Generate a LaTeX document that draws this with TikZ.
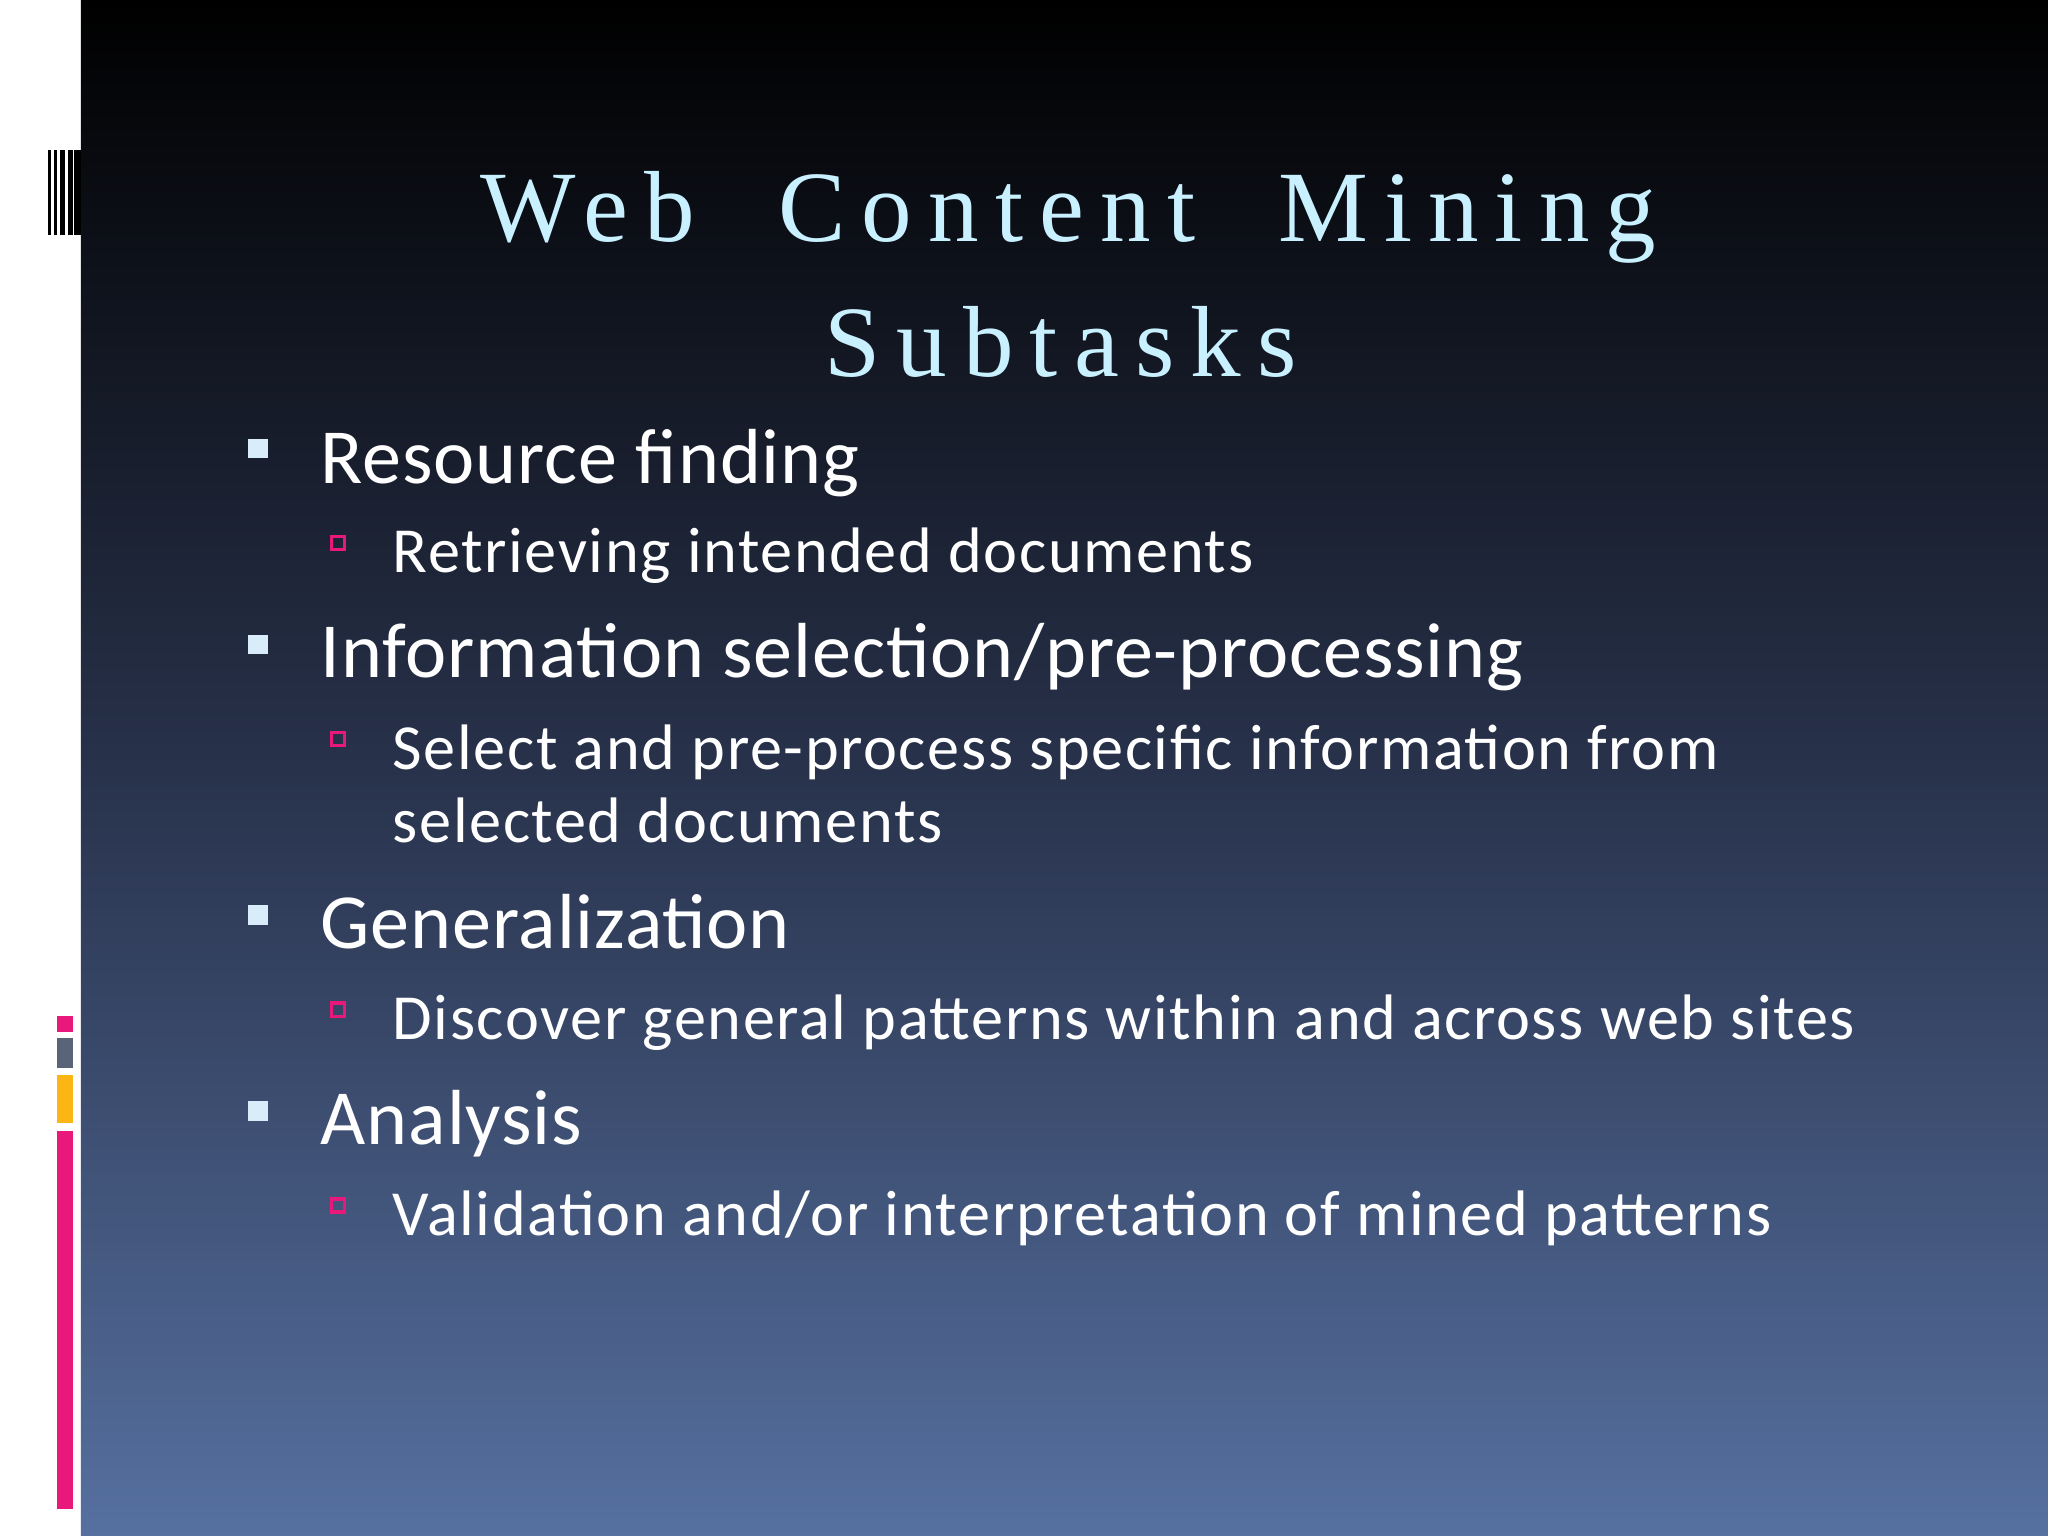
\documentclass[tikz,border=0pt]{standalone}
\usepackage{fontspec}
\setmainfont{Carlito}
\newfontfamily\titlefont[LetterSpace=16]{Liberation Serif}
\newfontfamily\onefont[LetterSpace=1.1]{Carlito}
\newfontfamily\twofont[LetterSpace=2.5]{Carlito}
\begin{document}
\begin{tikzpicture}[x=0.01cm,y=-0.01cm,
 lone/.style={anchor=base west,text=white,font=\onefont\fontsize{17pt}{19pt}\selectfont,inner sep=0},
 ltwo/.style={anchor=base west,text=white,font=\twofont\fontsize{14pt}{16pt}\selectfont,inner sep=0},
 ttl/.style={anchor=base,text=titlec,font=\titlefont\fontsize{22pt}{26pt}\selectfont,inner sep=0}]
\definecolor{titlec}{HTML}{C8F0FF}
\definecolor{bulc}{HTML}{D8ECFA}
\definecolor{pinkc}{HTML}{E8197A}
\definecolor{grayc}{HTML}{5A6478}
\definecolor{yelc}{HTML}{FBB514}
\useasboundingbox (0,0) rectangle (1568,1176);
\fill[white] (0,0) rectangle (1568,1176);
\shade[top color=black,bottom color={rgb,255:red,86;green,112;blue,160},middle color={rgb,255:red,40;green,50;blue,75}] (62,0) rectangle (1568,1176);
% barcode
\foreach \a/\b in {37/39,41/44,46/50,52/56,57/62}{\fill[black] (\a,115) rectangle (\b,180);}
% colour bars
\fill[pinkc] (44,778) rectangle (56,790);
\fill[grayc] (44,795) rectangle (56,818);
\fill[yelc] (44,823) rectangle (56,860);
\fill[pinkc] (44,866) rectangle (56,1155);
% title
\node[ttl] (t1) at (818,185) {Web\ \ Content\ \ Mining};
\node[ttl] (t2) at (812,288) {Subtasks};
% bullets
\foreach \y in {336,486,693,843}{\fill[bulc] (190,\y) rectangle (205,\y+15);}
\foreach \y in {411,561,768,918}{\draw[pinkc,line width=0.7pt] (254,\y) rectangle (264,\y+10);}
\node[lone] (a) at (245,370) {Resource finding};
\node[ltwo] (a1) at (300,438) {Retrieving intended documents};
\node[lone] (b) at (245,519) {Information selection/pre-processing};
\node[ltwo] (b1) at (300,589) {Select and pre-process specific information from};
\node[ltwo] (b2) at (300,645) {selected documents};
\node[lone] (c) at (245,726) {Generalization};
\node[ltwo] (c1) at (300,796) {Discover general patterns within and across web sites};
\node[lone] (d) at (245,876) {Analysis};
\node[ltwo] (d1) at (300,946) {Validation and/or interpretation of mined patterns};
\end{tikzpicture}
\end{document}
